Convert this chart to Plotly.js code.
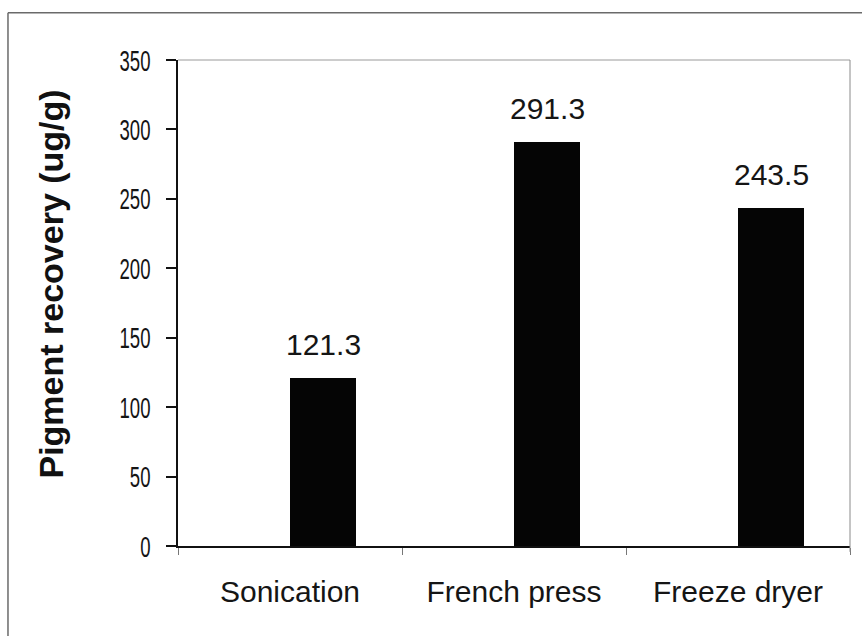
<!DOCTYPE html>
<html>
<head>
<meta charset="utf-8">
<script src="https://cdn.plot.ly/plotly-3.0.1.min.js"></script>
<style>
  html, body { margin: 0; padding: 0; background: #ffffff; }
  #chart { width: 862px; height: 636px; }
</style>
</head>
<body>
<div id="chart"></div>
<script>
// Extraction methods and pigment recovered by each (ug/g)
const methods = ['Sonication', 'French press', 'Freeze dryer'];
const recovery = [121.3, 291.3, 243.5];
const yTicks = [0, 50, 100, 150, 200, 250, 300, 350];

const FONT = 'Liberation Sans, Arial, Helvetica, sans-serif';
const BAR_WIDTH = 0.295;      // in category units; bars sit to the right of each category centre
const Y_LABEL_SQUEEZE = 0.62; // y tick numbers are drawn in a condensed style

const bars = {
  type: 'bar',
  x: methods,
  y: recovery,
  width: BAR_WIDTH,
  offset: 0,
  marker: { color: '#050505', line: { width: 0 } },
  hoverinfo: 'x+y'
};

// value labels above each bar
const valueLabels = recovery.map((v, i) => ({
  xref: 'x', yref: 'y',
  x: i + BAR_WIDTH / 2,
  y: v,
  text: v.toFixed(1),
  showarrow: false,
  xanchor: 'center', yanchor: 'bottom',
  yshift: 15,
  font: { family: FONT, size: 30, color: '#151515' }
}));

const layout = {
  width: 862,
  height: 636,
  margin: { l: 178, r: 12, t: 60, b: 90 },
  paper_bgcolor: '#ffffff',
  plot_bgcolor: '#ffffff',
  showlegend: false,
  bargap: 0,
  xaxis: {
    type: 'category',
    tickson: 'boundaries',
    ticks: 'outside',
    ticklen: 7,
    tickwidth: 1,
    tickcolor: '#777777',
    showline: true,
    linecolor: '#111111',
    linewidth: 1.5,
    showgrid: false,
    zeroline: false,
    ticklabelstandoff: 18,
    tickfont: { family: FONT, size: 30, color: '#151515' },
    range: [-0.5, 2.5]
  },
  yaxis: {
    range: [0, 350],
    tickvals: yTicks,
    ticktext: yTicks.map(String),
    ticks: 'outside',
    ticklen: 10,
    tickwidth: 2,
    tickcolor: '#111111',
    showline: true,
    linecolor: '#111111',
    linewidth: 2.5,
    showgrid: false,
    zeroline: false,
    ticklabelstandoff: 9,
    tickfont: { family: FONT, size: 30, color: '#151515' }
  },
  annotations: valueLabels.concat([{
    xref: 'paper', yref: 'paper',
    x: -0.189, y: 0.54,
    xanchor: 'center', yanchor: 'middle',
    textangle: -90,
    showarrow: false,
    text: '<b>Pigment recovery (ug/g)</b>',
    font: { family: FONT, size: 34, color: '#111111' }
  }]),
  shapes: [
    // light frame on the top and right of the plotting area
    { type: 'line', xref: 'paper', yref: 'paper', x0: 0, x1: 1, y0: 1, y1: 1,
      line: { color: '#9a9a9a', width: 1 } },
    { type: 'line', xref: 'paper', yref: 'paper', x0: 1, x1: 1, y0: -0.012, y1: 1,
      line: { color: '#8a8a8a', width: 1 } },
    // outer chart frame
    { type: 'line', xref: 'paper', yref: 'paper', x0: -0.253, x1: 1.02, y0: 1.097, y1: 1.097,
      line: { color: '#6a6a6a', width: 1.5 } },
    { type: 'line', xref: 'paper', yref: 'paper', x0: -0.253, x1: -0.253, y0: -0.186, y1: 1.097,
      line: { color: '#6a6a6a', width: 1.5 } }
  ]
};

// narrow the y tick numbers horizontally, keeping their right edge in place
function condenseYTicks(gd) {
  gd.querySelectorAll('.ytick text').forEach(t => {
    const x = parseFloat(t.getAttribute('x')) || 0;
    const base = t.getAttribute('transform') || '';
    t.setAttribute('transform',
      base + ' translate(' + x + ',0) scale(' + Y_LABEL_SQUEEZE + ',1) translate(' + (-x) + ',0)');
  });
}

Plotly.newPlot('chart', [bars], layout, { displayModeBar: false, staticPlot: true })
  .then(condenseYTicks);
</script>
</body>
</html>
